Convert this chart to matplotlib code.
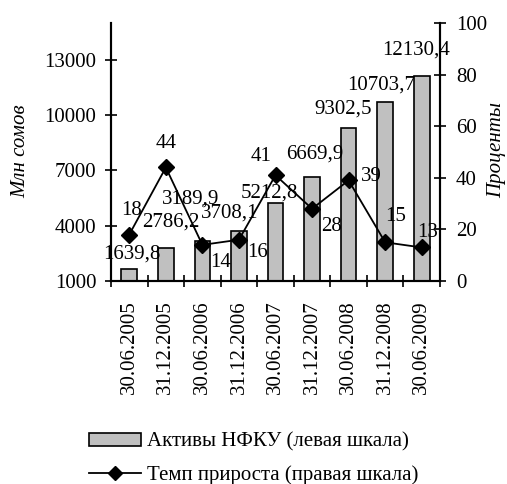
import matplotlib
matplotlib.use("Agg")
import matplotlib.pyplot as plt
from matplotlib.patches import Patch
from matplotlib.lines import Line2D
import numpy as np

categories = ["30.06.2005", "31.12.2005", "30.06.2006", "31.12.2006", "30.06.2007",
              "31.12.2007", "30.06.2008", "31.12.2008", "30.06.2009"]
assets = [1639.8, 2786.2, 3189.9, 3708.1, 5212.8, 6669.9, 9302.5, 10703.7, 12130.4]
growth = [18, 44, 14, 16, 41, 28, 39, 15, 13]
asset_labels = ["1639,8", "2786,2", "3189,9", "3708,1", "5212,8", "6669,9", "9302,5", "10703,7", "12130,4"]
left_ticks = [1000, 4000, 7000, 10000, 13000]
right_ticks = [0, 20, 40, 60, 80, 100]

# label offsets (pixels): bar labels relative to bar top, line labels relative to marker
bar_off = [(3, 15), (5, 26), (-12, 42), (-9, 18), (-6, 10), (3, 22), (-5, 19), (-4, 17), (-6, 26)]
line_off = [(2, 24), (0, 24), (18, -18), (19, -13), (-14, 19), (19, -18), (23, 4), (10, 26), (6, 15)]

plt.rcParams['font.family'] = ['Liberation Serif', 'DejaVu Serif']
FS = 15

fig = plt.figure(figsize=(5.07, 4.84), dpi=100)
ax = fig.add_axes([111/507, 1-281/484, (440-111)/507, (281-23)/484])
ax2 = ax.twinx()

x = np.arange(len(categories))
bars = ax.bar(x, np.array(assets) - 1000, bottom=1000, width=0.43,
              color="#c0c0c0", edgecolor="black", linewidth=1.2, zorder=2)
ax.set_xlim(-0.5, len(categories) - 0.5)
ax.set_ylim(1000, 15000)
ax.set_yticks(left_ticks)
ax.set_yticklabels([str(t) for t in left_ticks], fontsize=FS)
ax.tick_params(axis='y', direction='inout', length=9, width=1.2, pad=6)
ax.set_xticks(x)
ax.set_xticklabels(categories, rotation=90, fontsize=FS)
ax.tick_params(axis='x', which='major', length=0, pad=14)
ax.set_xticks(np.arange(-0.5, len(categories), 1.0), minor=True)
ax.tick_params(axis='x', which='minor', direction='inout', length=9, width=1.2)

ax2.plot(x, growth, color="black", linewidth=1.3, marker="D", markersize=8, zorder=3)
ax2.set_ylim(0, 100)
ax2.set_yticks(right_ticks)
ax2.set_yticklabels([str(t) for t in right_ticks], fontsize=FS)
ax2.tick_params(axis='y', direction='inout', length=9, width=1.2, pad=7)

for a in (ax, ax2):
    a.spines['top'].set_visible(False)
    for s in ('left', 'right', 'bottom'):
        a.spines[s].set_linewidth(1.5)

for i, (v, lab) in enumerate(zip(assets, asset_labels)):
    ax.annotate(lab, (x[i], v), xytext=bar_off[i], textcoords='offset pixels',
                ha='center', va='center', fontsize=FS, zorder=5)
for i, v in enumerate(growth):
    ax2.annotate(str(v), (x[i], v), xytext=line_off[i], textcoords='offset pixels',
                 ha='center', va='center', fontsize=FS, zorder=5)

fig.text(21/507, 1-151/484, "Млн сомов", rotation=90, style='italic',
         fontsize=FS, ha='center', va='center')
fig.text(497/507, 1-150/484, "Проценты", rotation=90, style='italic',
         fontsize=FS, ha='center', va='center')

handles = [Patch(facecolor="#c0c0c0", edgecolor="black", linewidth=1.2),
           Line2D([], [], color="black", linewidth=1.3, marker="D", markersize=7)]
fig.legend(handles, ["Активы НФКУ (левая шкала)", "Темп прироста (правая шкала)"],
           loc='center left', bbox_to_anchor=(89/507, 1-459/484), frameon=False,
           fontsize=FS, handlelength=2.5, handleheight=0.6, labelspacing=0.66,
           handletextpad=0.3, borderpad=0, borderaxespad=0)

fig.savefig("out.png", dpi=100)
